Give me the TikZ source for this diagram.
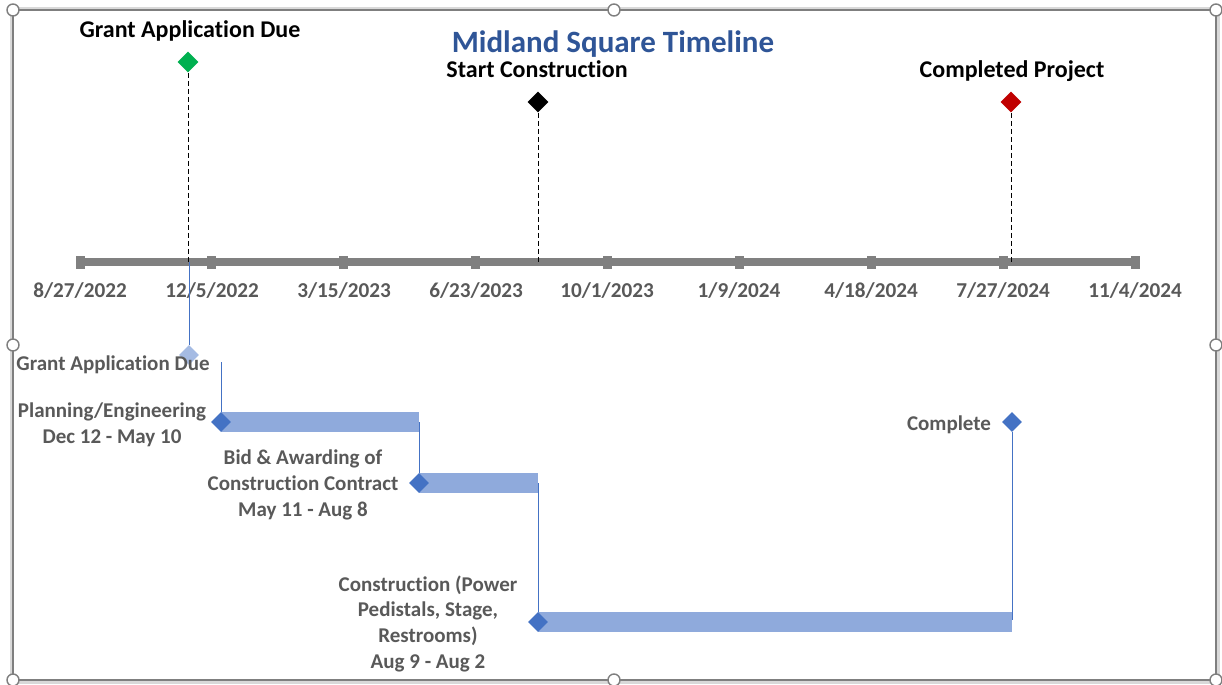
\documentclass[tikz,border=0pt]{standalone}
\usepackage{fontspec}
\setmainfont{Carlito}[Ligatures={NoCommon}]
\usetikzlibrary{shapes.geometric}
\definecolor{frameg}{HTML}{7F7F7F}
\definecolor{framel}{HTML}{D9D9D9}
\definecolor{axisg}{HTML}{808080}
\definecolor{labg}{HTML}{595959}
\definecolor{titleb}{HTML}{2F5597}
\definecolor{dblue}{HTML}{4472C4}
\definecolor{lblue}{HTML}{8FAADC}
\definecolor{mgreen}{HTML}{00B050}
\definecolor{mred}{HTML}{C00000}
\tikzset{
  toplab/.style={font=\bfseries\fontsize{12}{14}\selectfont, text=black, inner sep=0pt, anchor=base},
  titlelab/.style={font=\bfseries\fontsize{15.5}{18}\selectfont, text=titleb, inner sep=0pt, anchor=base},
  datelab/.style={font=\bfseries\fontsize{10.6}{12}\selectfont, text=labg, inner sep=0pt, anchor=base},
  tasklab/.style={font=\bfseries\fontsize{10.5}{12.8}\selectfont, text=labg, align=center, inner sep=0pt, anchor=base},
  marker/.style={diamond, minimum size=10.5pt, inner sep=0pt},
  taskdia/.style={diamond, fill=dblue, minimum size=10pt, inner sep=0pt},
  taskbar/.style={fill=lblue},
  leader/.style={draw=dblue, line width=0.5pt},
  drop/.style={draw=black, line width=0.5pt, dash pattern=on 2.5pt off 1.5pt},
  tickmark/.style={rectangle, fill=axisg, minimum width=4.5pt, minimum height=6.5pt, inner sep=0pt},
  handle/.style={circle, draw=frameg, fill=white, line width=0.7pt, minimum size=6pt, inner sep=0pt}
}
\begin{document}
\begin{tikzpicture}[x=0.5pt,y=-0.5pt]
\useasboundingbox (0,0) rectangle (1222,685);
\fill[white] (0,0) rectangle (1222,685);
% frame
\draw[framel, line width=1.5pt] (11,8) rectangle (1218,682);
\draw[frameg, line width=1pt] (13,10) rectangle (1216,680);

% title and top milestone labels
\node[titlelab] (title) at (613,52) {Midland Square Timeline};
\node[toplab] (lgrant) at (190,37) {Grant Application Due};
\node[toplab] (lstart) at (537,77) {Start Construction};
\node[toplab] (lcomp) at (1012,77) {Completed Project};

% axis
\draw[axisg, line width=4pt] (80,262) -- (1135,262);
\foreach \i in {0,...,8}{
  \node[tickmark] (t\i) at ({80+131.9*\i},262) {};
}
\node[datelab] (d0) at (80,297) {8/27/2022};
\node[datelab] (d1) at (212,297) {12/5/2022};
\node[datelab] (d2) at (344,297) {3/15/2023};
\node[datelab] (d3) at (476,297) {6/23/2023};
\node[datelab] (d4) at (607,297) {10/1/2023};
\node[datelab] (d5) at (739,297) {1/9/2024};
\node[datelab] (d6) at (871,297) {4/18/2024};
\node[datelab] (d7) at (1003,297) {7/27/2024};
\node[datelab] (d8) at (1135,297) {11/4/2024};

% top milestones
\coordinate (ag) at (188,262);
\coordinate (as) at (538,262);
\coordinate (ac) at (1011,262);
\node[marker, fill=mgreen] (mg) at (188,62) {};
\node[marker, fill=black] (ms) at (538,102) {};
\node[marker, fill=mred] (mc) at (1011,102) {};
\draw[drop] (mg.south) -- (ag);
\draw[drop] (ms.south) -- (as);
\draw[drop] (mc.south) -- (ac);

% gantt part
\coordinate (gtop) at (189,262);
\node[diamond, fill=lblue, fill opacity=0.8, minimum size=10pt, inner sep=0pt] (gdia) at (189,355) {};
\draw[leader] (gtop) -- (gdia.north);

\coordinate (p0) at (221,362);
\coordinate (b0) at (419,422);
\coordinate (c0) at (538,483);
\coordinate (k1) at (1012,620);

\fill[taskbar] (221,412) rectangle (419,432);
\fill[taskbar] (419,473) rectangle (538,493);
\fill[taskbar] (538,612) rectangle (1012,632);

\node[taskdia] (pdia) at (221,422) {};
\node[taskdia] (bdia) at (419,483) {};
\node[taskdia] (cdia) at (538,622) {};
\node[taskdia] (kdia) at (1012,422) {};

\draw[leader] (p0) -- (pdia.north);
\draw[leader] (b0) -- (bdia.north);
\draw[leader] (c0) -- (cdia.north);
\draw[leader] (kdia.south) -- (k1);

\node[tasklab] (tg) at (113,370) {Grant Application Due};
\node[tasklab] (tp) at (112,443) {Planning/Engineering\\Dec 12 - May 10};
\node[tasklab] (tb) at (303,516) {Bid \& Awarding of\\Construction Contract\\May 11 - Aug 8};
\node[tasklab] (tc) at (428,668) {Construction (Power\\Pedistals, Stage,\\Restrooms)\\Aug 9 - Aug 2};
\node[tasklab] (tk) at (949,430) {Complete};

% handles
\node[handle] (h1) at (13,10) {};
\node[handle] (h2) at (614,10) {};
\node[handle] (h3) at (1216,10) {};
\node[handle] (h4) at (13,345) {};
\node[handle] (h5) at (1216,345) {};
\node[handle] (h6) at (13,680) {};
\node[handle] (h7) at (614,680) {};
\node[handle] (h8) at (1216,680) {};
\end{tikzpicture}
\end{document}
